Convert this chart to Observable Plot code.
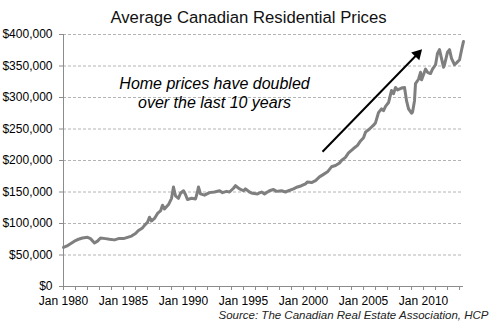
<!DOCTYPE html>
<html>
<head>
<meta charset="utf-8">
<script src="https://cdn.jsdelivr.net/npm/d3@7"></script>
<script src="https://cdn.jsdelivr.net/npm/@observablehq/plot@0.6"></script>
<style>
  html, body { margin: 0; padding: 0; background: #fff; }
  #chart svg { display: block; }
</style>
</head>
<body>
<div id="chart"></div>
<script>
// ---- Data ----
const months = [
  "1980-01","1980-04","1980-08","1981-01","1981-04","1981-08","1982-01","1982-04","1982-08","1982-11",
  "1983-02","1983-07","1983-11","1984-04","1984-08","1985-01","1985-05","1985-09","1986-01","1986-04",
  "1986-08","1986-10","1987-01","1987-03","1987-05","1987-08","1987-11","1988-02","1988-04","1988-06",
  "1988-10","1989-01","1989-03","1989-05","1989-08","1989-10","1990-01","1990-03","1990-05","1990-09",
  "1991-01","1991-03","1991-04","1991-06","1991-10","1992-03","1992-08","1993-01","1993-04","1993-08",
  "1993-11","1994-03","1994-05","1994-09","1995-01","1995-03","1995-07","1995-10","1996-03","1996-07",
  "1996-10","1997-03","1997-07","1997-10","1998-03","1998-07","1998-10","1999-03","1999-07","1999-11",
  "2000-03","2000-05","2000-09","2001-01","2001-05","2001-09","2002-01","2002-05","2002-09","2003-01",
  "2003-03","2003-07","2003-10","2004-03","2004-07","2004-10","2005-01","2005-03","2005-07","2005-11",
  "2006-01","2006-04","2006-07","2006-09","2006-11","2007-02","2007-05","2007-07","2007-09","2007-11",
  "2008-03","2008-06","2008-08","2008-10","2009-01","2009-02","2009-04","2009-05","2009-08","2009-10",
  "2009-11","2010-03","2010-05","2010-08","2010-10","2011-01","2011-03","2011-05","2011-07","2011-09",
  "2011-10","2012-01","2012-03","2012-05","2012-08","2012-10","2013-01","2013-03","2013-05"
];
const prices = [
  62000,64000,68000,73000,75000,77000,78000,76000,69000,72000,
  77000,76000,75000,74000,76000,76000,78000,80000,84000,89000,
  93000,97000,102000,110000,104000,108000,116000,120000,129000,123000,
  130000,140000,158000,144000,140000,148000,152000,146000,138000,140000,
  139000,150000,158000,147000,145000,149000,150000,152000,149000,151000,
  150000,156000,160000,155000,152000,155000,150000,148000,147000,150000,
  147000,152000,154000,151000,152000,150000,152000,155000,158000,160000,
  163000,166000,165000,168000,174000,178000,182000,190000,192000,196000,
  200000,205000,212000,219000,224000,231000,236000,245000,250000,256000,
  260000,276000,282000,279000,286000,292000,311000,306000,316000,312000,
  315000,316000,295000,282000,275000,277000,295000,322000,329000,340000,
  328000,345000,340000,338000,345000,352000,370000,376000,362000,348000,
  352000,372000,376000,362000,352000,355000,360000,375000,389000
];
const xRange = ["1980-01", "2013-05"];
const yTicks = [0, 50000, 100000, 150000, 200000, 250000, 300000, 350000, 400000];
const xLabelYears = [1980, 1985, 1990, 1995, 2000, 2005, 2010];
const titleText = "Average Canadian Residential Prices";
const noteText = "Home prices have doubled\nover the last 10 years";
const notePos = ["1992-08", 308000];
const arrowFrom = ["2001-08", 214000];
const arrowHead = ["2009-07", 369000];
const sourceText = "Source: The Canadian Real Estate Association, HCP";

// ---- Build table ----
const parse = d3.utcParse("%Y-%m");
const data = months.map((m, i) => ({date: parse(m), price: prices[i]}));
const yearTicks = d3.utcYear.range(parse("1980-01"), parse("2014-01"));
const font = "'Liberation Sans', Arial, sans-serif";
const arrowData = [{x1: parse(arrowFrom[0]), y1: arrowFrom[1], x2: parse(arrowHead[0]), y2: arrowHead[1]}];

const chart = Plot.plot({
  width: 495,
  height: 333,
  marginLeft: 63,
  marginRight: 32,
  marginTop: 34,
  marginBottom: 47,
  style: {fontFamily: font, fontSize: "12px", color: "#000", background: "#fff"},
  x: {type: "utc", domain: xRange.map(parse)},
  y: {domain: [0, 400000]},
  marks: [
    Plot.ruleY(yTicks.filter(d => d > 0), {stroke: "#b4b4b4", strokeWidth: 1, strokeDasharray: "3,2"}),
    Plot.axisY({
      ticks: yTicks, tickSize: 4, tickPadding: 7, stroke: "#8c8c8c",
      tickFormat: d => "$" + d3.format(",")(d), fill: "#000", fontSize: 12
    }),
    Plot.axisX({
      ticks: yearTicks, tickSize: 4, tickPadding: 6, stroke: "#8c8c8c",
      tickFormat: d => xLabelYears.includes(d.getUTCFullYear()) ? "Jan " + d.getUTCFullYear() : "",
      fill: "#000", fontSize: 12
    }),
    Plot.ruleX([parse(xRange[0])], {y1: 0, y2: 400000, stroke: "#8c8c8c"}),
    Plot.ruleY([0], {stroke: "#8c8c8c"}),
    Plot.line(data, {x: "date", y: "price", stroke: "#7f7f7f", strokeWidth: 3, strokeLinejoin: "round", strokeLinecap: "round"}),
    Plot.link(arrowData, {x1: "x1", y1: "y1", x2: "x2", y2: "y2", stroke: "#000", strokeWidth: 2}),
    Plot.dot(arrowData, {x: "x2", y: "y2", symbol: "triangle", r: 4.2, fill: "#000", stroke: "none", rotate: 44}),
    Plot.text([noteText], {x: () => parse(notePos[0]), y: () => notePos[1], text: d => d,
      fontSize: 16, fontStyle: "italic", fill: "#000", lineHeight: 1.19, textAnchor: "middle", lineAnchor: "middle"}),
    Plot.text([titleText], {frameAnchor: "top", dx: -15, dy: -17, lineAnchor: "middle", text: d => d,
      fontSize: 16.7, fill: "#111"}),
    Plot.text([sourceText], {frameAnchor: "bottom-right", dx: 25, dy: 29, lineAnchor: "middle", textAnchor: "end",
      text: d => d, fontSize: 11.5, fontStyle: "italic", fill: "#222"})
  ]
});
document.getElementById("chart").appendChild(chart);
</script>
</body>
</html>
